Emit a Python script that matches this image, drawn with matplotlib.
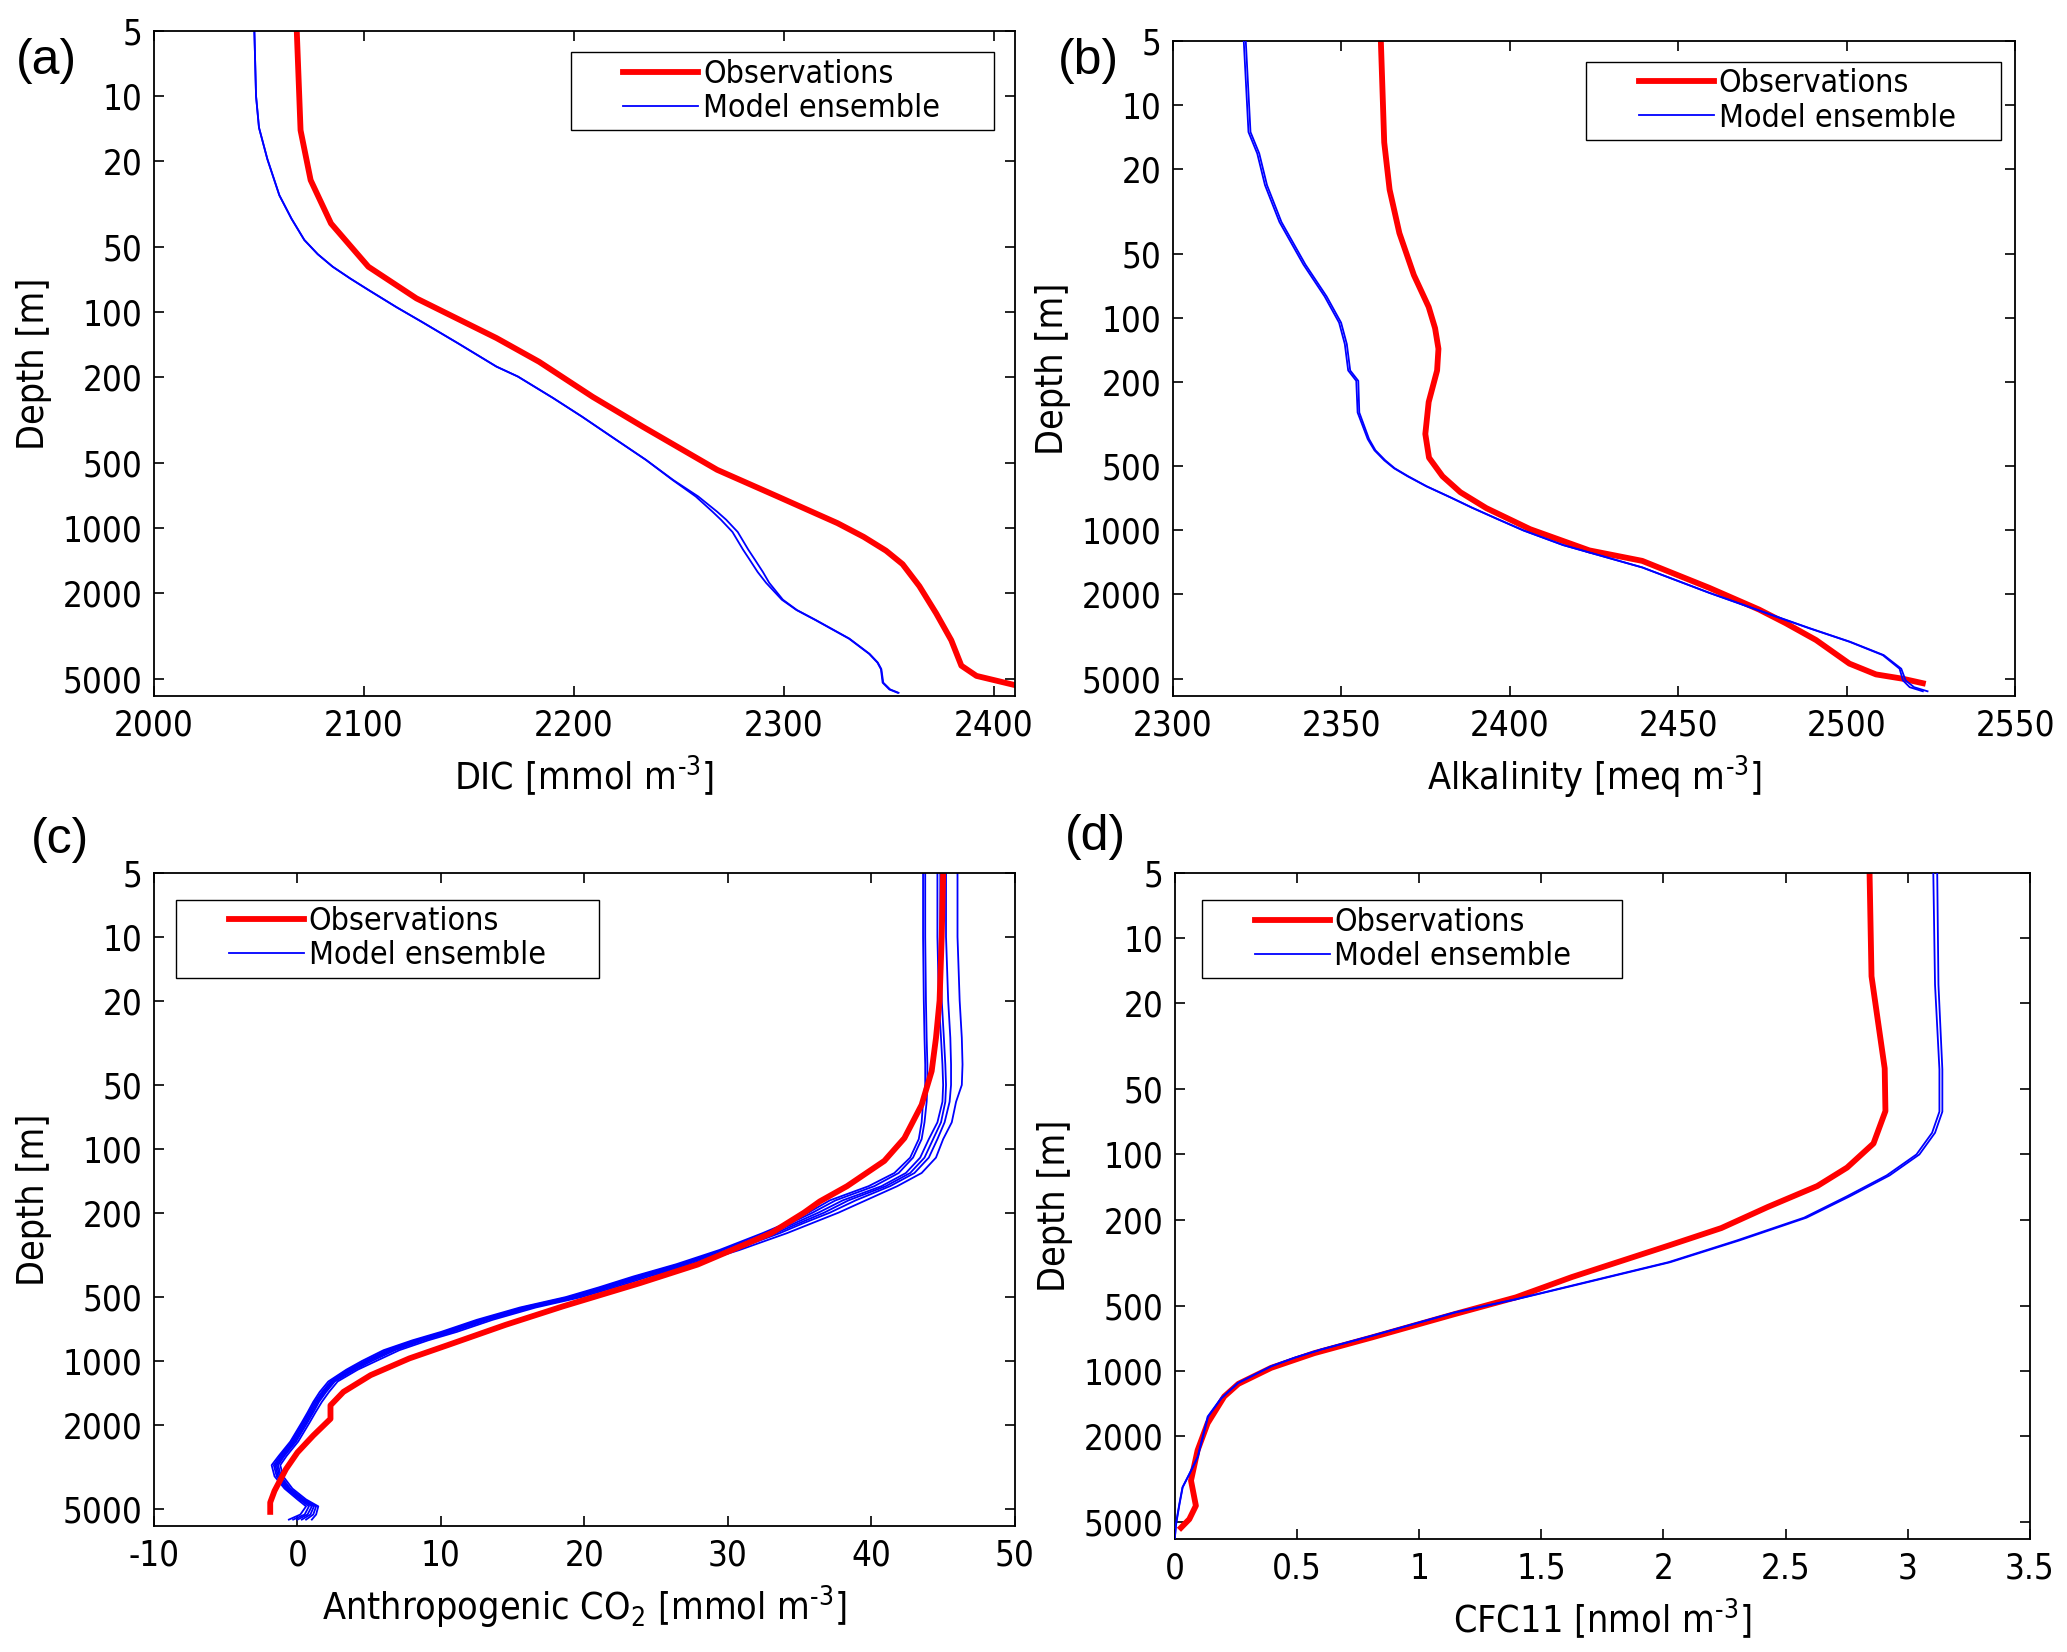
import numpy as np
import matplotlib
matplotlib.use('Agg')
from matplotlib import pyplot as plt
from matplotlib import font_manager
from matplotlib.lines import Line2D
from matplotlib.legend_handler import HandlerLine2D

# ---- data ----
# (a) DIC
dic_obs_depth = [5, 14.4, 24.5, 38.9, 61.7, 86.5, 132, 170, 247, 339, 538, 715, 950, 1100, 1274,
                 1471, 1860, 2485, 3311, 4343, 4843, 5400]
dic_obs = [2068, 2069.8, 2074.6, 2084.3, 2102.1, 2125, 2163.1, 2183.4, 2208.9, 2232.6, 2268.2,
           2297, 2325.5, 2338, 2348.6, 2356.5, 2364.5, 2372.5, 2379.7, 2384.5, 2391.7, 2412]
dic_mod_depth = [5, 10, 14, 19.6, 28.8, 37, 46.4, 54, 61.7, 70, 79, 95, 111, 140, 179, 199, 250,
                 305, 390, 484, 600, 715, 841, 916, 1044, 1259, 1394, 1600, 1795, 2149, 2400, 2670,
                 3256, 3830, 4200, 4506, 5204, 5596, 5799]
dic_mod_1 = [2047.8, 2048.6, 2050, 2054, 2059.7, 2065.5, 2071.6, 2078, 2085.1, 2093.5, 2102.1,
             2115.5, 2127.5, 2145, 2163.1, 2173.3, 2190, 2203.8, 2220, 2234.3, 2247, 2258, 2266,
             2270, 2275.5, 2280.5, 2283.5, 2287.5, 2291.5, 2299, 2306, 2315, 2331, 2340.6, 2344.5,
             2346.2, 2347, 2350.2, 2354.2]
dic_mod_2 = [2047.8, 2048.6, 2050, 2054, 2059.7, 2065.5, 2071.6, 2078, 2085.1, 2093.5, 2102.1,
             2115.5, 2127.5, 2145, 2163.1, 2173.3, 2190, 2203.8, 2220, 2234.3, 2247.3, 2259.2,
             2268.2, 2272.5, 2278, 2283, 2286, 2290, 2293, 2299.5, 2306.2, 2315.2, 2331.2,
             2340.8, 2344.7, 2346.4, 2347.3, 2350.6, 2354.6]

# (b) Alkalinity
alk_obs_depth = [5, 15, 25, 40, 63, 89, 112, 140, 177, 249, 352, 455, 556, 661, 785, 986, 1241,
                 1390, 1858, 2355, 2729, 3275, 4226, 4750, 4980, 5225]
alk_obs = [2361.7, 2362.7, 2364.3, 2367.2, 2371.5, 2375.9, 2377.8, 2378.8, 2378.4, 2375.9, 2374.9,
           2376.0, 2380.0, 2385.3, 2393.0, 2406.0, 2423.6, 2439.3, 2459.1, 2474.0, 2481.9, 2490.9,
           2500.8, 2508.7, 2516.7, 2522.6]
alk_mod_depth = [5, 13.4, 16.9, 23.8, 35.5, 56.2, 79.4, 105.5, 133, 177, 198, 279, 372, 420, 468,
                 510, 556, 620, 700, 780, 880, 1000, 1172, 1493, 1963, 2444, 2884, 3336, 3855,
                 4467, 5070, 5456, 5703]
alk_mod_1 = [2321, 2322.4, 2325, 2327.3, 2331.6, 2338.7, 2345, 2349.3, 2351, 2352, 2354.4, 2354.8,
             2357.8, 2359.8, 2362.7, 2365.6, 2369.6, 2375.2, 2382.4, 2388.6, 2396, 2404, 2415.8,
             2439.3, 2459.1, 2476, 2488.9, 2500.8, 2510.7, 2515.7, 2516.7, 2518.7, 2522.6]
alk_mod_2 = [2321.6, 2323.0, 2325.6, 2327.9, 2332.2, 2339.3, 2345.6, 2349.9, 2351.6, 2352.6,
             2355.0, 2355.3, 2358.2, 2360.1, 2363.0, 2365.8, 2369.8, 2375.3, 2382.5, 2388.7,
             2396.1, 2404.1, 2415.9, 2439.4, 2459.2, 2476.2, 2489.1, 2501.0, 2511.0, 2516.2,
             2517.5, 2520.0, 2524.0]

# (c) Anthropogenic CO2
co2_obs_depth = [5, 10, 20, 30, 43, 62, 89, 114, 150, 177, 200, 250, 282, 351, 429, 553, 676, 841,
                 973, 1167, 1400, 1620, 1875, 2248, 2700, 3235, 4100, 4650, 5150]
co2_obs = [45.0, 44.9, 44.75, 44.5, 44.2, 43.5, 42.3, 40.9, 38.3, 36.4, 35.3, 33.0, 31.2, 27.9,
           23.9, 18.5, 14.5, 10.5, 7.8, 5.1, 3.2, 2.3, 2.3, 1.1, 0.0, -0.8, -1.6, -1.9, -1.9]
co2_mod_depth = [5, 10, 20, 30, 40, 50, 60, 75, 90, 110, 130, 150, 175, 200, 225, 250, 300, 350,
                 400, 450, 500, 560, 640, 730, 800, 890, 1000, 1100, 1250, 1400, 1560, 1750, 1950,
                 2400, 2800, 3100, 3500, 4000, 4500, 4850, 5300, 5600]
co2_mod_1 = [43.6, 43.6, 43.65, 43.7, 43.75, 43.75, 43.6, 43.5, 43.3, 42.7, 41.6, 39.8, 37.1, 35.6,
             34.0, 32.4, 29.4, 26.4, 23.4, 21.0, 18.7, 15.5, 12.5, 10.0, 8.0, 6.0, 4.5, 3.4, 2.15,
             1.55, 1.1, 0.7, 0.3, -0.5, -1.3, -1.8, -1.6, -0.9, 0.0, 0.6, 0.2, -0.6]
co2_mod_2 = [43.75, 43.75, 43.8, 43.85, 43.9, 43.9, 43.85, 43.7, 43.5, 42.9, 41.9, 40.2, 37.5, 35.9,
             34.3, 32.7, 29.6, 26.6, 23.6, 21.2, 18.9, 15.7, 12.7, 10.2, 8.2, 6.2, 4.7, 3.55, 2.3,
             1.7, 1.2, 0.8, 0.4, -0.4, -1.2, -1.65, -1.45, -0.8, 0.15, 0.8, 0.5, -0.3]
co2_mod_3 = [44.6, 44.6, 44.7, 44.85, 44.95, 45.0, 44.95, 44.6, 44.0, 43.4, 42.4, 40.7, 38.0, 36.3,
             34.6, 33.0, 29.9, 26.8, 23.8, 21.4, 19.1, 15.9, 12.9, 10.4, 8.4, 6.4, 4.85, 3.7, 2.4,
             1.8, 1.3, 0.9, 0.5, -0.3, -1.1, -1.55, -1.35, -0.7, 0.25, 1.0, 0.7, 0.0]
co2_mod_4 = [44.8, 44.8, 44.9, 45.05, 45.15, 45.2, 45.15, 44.85, 44.3, 43.7, 42.7, 41.0, 38.4, 36.7,
             34.9, 33.3, 30.1, 27.0, 24.0, 21.6, 19.3, 16.1, 13.1, 10.6, 8.6, 6.6, 5.0, 3.85, 2.5,
             1.9, 1.4, 1.0, 0.6, -0.2, -1.0, -1.45, -1.25, -0.6, 0.35, 1.15, 0.9, 0.3]
co2_mod_5 = [45.2, 45.2, 45.35, 45.5, 45.55, 45.55, 45.45, 45.1, 44.6, 44.0, 43.0, 41.3, 38.9, 37.1,
             35.2, 33.6, 30.4, 27.3, 24.2, 21.8, 19.5, 16.3, 13.3, 10.8, 8.8, 6.8, 5.2, 4.0, 2.6,
             2.0, 1.5, 1.1, 0.7, -0.1, -0.9, -1.35, -1.15, -0.5, 0.45, 1.3, 1.1, 0.6]
co2_mod_6 = [46.0, 46.0, 46.15, 46.3, 46.35, 46.3, 45.9, 45.6, 45.0, 44.5, 43.5, 41.8, 39.6, 37.7,
             35.8, 34.1, 30.8, 27.6, 24.5, 22.1, 19.8, 16.6, 13.6, 11.1, 9.1, 7.1, 5.5, 4.2, 2.8,
             2.2, 1.7, 1.25, 0.85, 0.05, -0.75, -1.2, -1.0, -0.35, 0.6, 1.45, 1.3, 1.0]

# (d) CFC11
cfc_obs_depth = [5, 15, 40, 63, 89, 115, 140, 175, 219, 263, 369, 458, 547, 703, 830, 970, 1150,
                 1316, 1751, 2333, 3220, 4210, 4860, 5320]
cfc_obs = [2.844, 2.852, 2.906, 2.909, 2.86, 2.752, 2.63, 2.427, 2.237, 2.025, 1.625, 1.396,
           1.146, 0.804, 0.57, 0.394, 0.26, 0.202, 0.134, 0.093, 0.066, 0.086, 0.059, 0.025]
cfc_mod_depth = [5, 16.4, 40.4, 63.4, 79.4, 100, 125, 156, 196, 250, 315, 404, 467, 537, 690, 797,
                 870, 953, 1140, 1340, 1631, 2506, 3000, 3460, 4140, 5130, 5910]
cfc_mod_1 = [3.105, 3.112, 3.13, 3.13, 3.1, 3.036, 2.914, 2.752, 2.576, 2.30, 2.02, 1.625, 1.396,
             1.146, 0.804, 0.599, 0.49, 0.394, 0.257, 0.189, 0.134, 0.093, 0.059, 0.031, 0.018,
             0.004, 0.0]
cfc_mod_2 = [3.121, 3.126, 3.142, 3.142, 3.112, 3.048, 2.926, 2.764, 2.586, 2.31, 2.028, 1.632,
             1.40, 1.15, 0.807, 0.601, 0.492, 0.396, 0.259, 0.191, 0.136, 0.094, 0.06, 0.032,
             0.019, 0.005, 0.0]

depth_ticks = [5, 10, 20, 50, 100, 200, 500, 1000, 2000, 5000]

# ---- fonts ----
names = {f.name for f in font_manager.fontManager.ttflist}
if 'DejaVu Sans Condensed' in names:
    plt.rcParams['font.family'] = ['DejaVu Sans Condensed', 'DejaVu Sans']
else:
    plt.rcParams['font.family'] = ['DejaVu Sans']
    plt.rcParams['font.stretch'] = 'condensed'
plt.rcParams['mathtext.default'] = 'regular'

FS = 25       # tick labels
FS_LAB = 27   # axis labels
FS_LEG = 23   # legend
RED = (1, 0, 0)
BLUE = (0, 0, 1)
UNIT = r'm$^{\text{-}3}$]'

fig = plt.figure(figsize=(20.67, 16.52), dpi=100)


def style_axis(ax, xlim, xticks, xticklabels, xlabel):
    ax.set_yscale('log')
    ax.set_ylim(6000, 5)
    ax.set_yticks(depth_ticks)
    ax.set_yticklabels([str(d) for d in depth_ticks])
    ax.yaxis.set_minor_locator(matplotlib.ticker.NullLocator())
    ax.set_xlim(xlim)
    ax.set_xticks(xticks)
    ax.set_xticklabels(xticklabels)
    ax.tick_params(direction='in', top=True, right=True, length=7, width=1.2,
                   labelsize=FS, colors='k')
    ax.tick_params(axis='x', pad=9)
    ax.tick_params(axis='y', pad=8)
    for s in ax.spines.values():
        s.set_linewidth(1.3)
    ax.set_ylabel('Depth [m]', fontsize=FS_LAB, labelpad=8)
    ax.set_xlabel(xlabel, fontsize=FS_LAB, labelpad=8)


def add_legend(ax, h_obs, h_mod, x0, w, top):
    ax.legend([h_obs, h_mod], ['Observations', 'Model ensemble'],
              bbox_to_anchor=(x0, 0, w, top), loc='upper left', mode='expand',
              borderaxespad=0, frameon=True, fancybox=False, shadow=False,
              edgecolor='k', framealpha=1, fontsize=FS_LEG, handlelength=3.8,
              handletextpad=0.15, borderpad=0.2, labelspacing=0.1,
              handler_map={Line2D: HandlerLine2D(xpad=1.45)})


def draw_panel(ax, obs_x, obs_d, members, mod_d, model_on_top=False):
    zm = 3 if model_on_top else 2
    hm = None
    for m in members:
        hm, = ax.plot(m, mod_d, color=BLUE, lw=1.3, zorder=zm)
    ho, = ax.plot(obs_x, obs_d, color=RED, lw=4.2, zorder=2.5)
    return ho, hm


# (a)
ax_a = fig.add_axes([0.0745, 0.5787, 0.4165, 0.4025])
ho, hm = draw_panel(ax_a, dic_obs, dic_obs_depth, [dic_mod_1, dic_mod_2], dic_mod_depth)
style_axis(ax_a, (2000, 2410), [2000, 2100, 2200, 2300, 2400],
           ['2000', '2100', '2200', '2300', '2400'], 'DIC [mmol ' + UNIT)
add_legend(ax_a, ho, hm, 0.484, 0.492, 0.968)

# (b)
ax_b = fig.add_axes([0.5675, 0.5787, 0.4074, 0.3965])
ho, hm = draw_panel(ax_b, alk_obs, alk_obs_depth, [alk_mod_1, alk_mod_2], alk_mod_depth,
                    model_on_top=True)
xt = [2300, 2350, 2400, 2450, 2500, 2550]
style_axis(ax_b, (2300, 2550), xt, [str(v) for v in xt], 'Alkalinity [meq ' + UNIT)
add_legend(ax_b, ho, hm, 0.4905, 0.493, 0.968)

# (c)
ax_c = fig.add_axes([0.0745, 0.0763, 0.4165, 0.3953])
ho, hm = draw_panel(ax_c, co2_obs, co2_obs_depth,
                    [co2_mod_1, co2_mod_2, co2_mod_3, co2_mod_4, co2_mod_5, co2_mod_6],
                    co2_mod_depth)
xt = [-10, 0, 10, 20, 30, 40, 50]
style_axis(ax_c, (-10, 50), xt, [str(v) for v in xt],
           'Anthropogenic CO$_2$ [mmol ' + UNIT)
add_legend(ax_c, ho, hm, 0.0256, 0.491, 0.959)

# (d)
ax_d = fig.add_axes([0.5684, 0.0684, 0.4136, 0.4031])
ho, hm = draw_panel(ax_d, cfc_obs, cfc_obs_depth, [cfc_mod_1, cfc_mod_2], cfc_mod_depth,
                    model_on_top=True)
xt = [0, 0.5, 1, 1.5, 2, 2.5, 3, 3.5]
style_axis(ax_d, (0, 3.5), xt, ['%g' % v for v in xt], 'CFC11 [nmol ' + UNIT)
add_legend(ax_d, ho, hm, 0.0316, 0.491, 0.959)

# panel letters
for lab, x, y in [('(a)', 0.0225, 0.9630), ('(b)', 0.5265, 0.9630),
                  ('(c)', 0.0290, 0.4915), ('(d)', 0.5300, 0.4935)]:
    fig.text(x, y, lab, ha='center', va='center', fontsize=36,
             family=['Liberation Sans', 'DejaVu Sans'], fontstretch='normal')

fig.savefig('out.png', dpi=100)
